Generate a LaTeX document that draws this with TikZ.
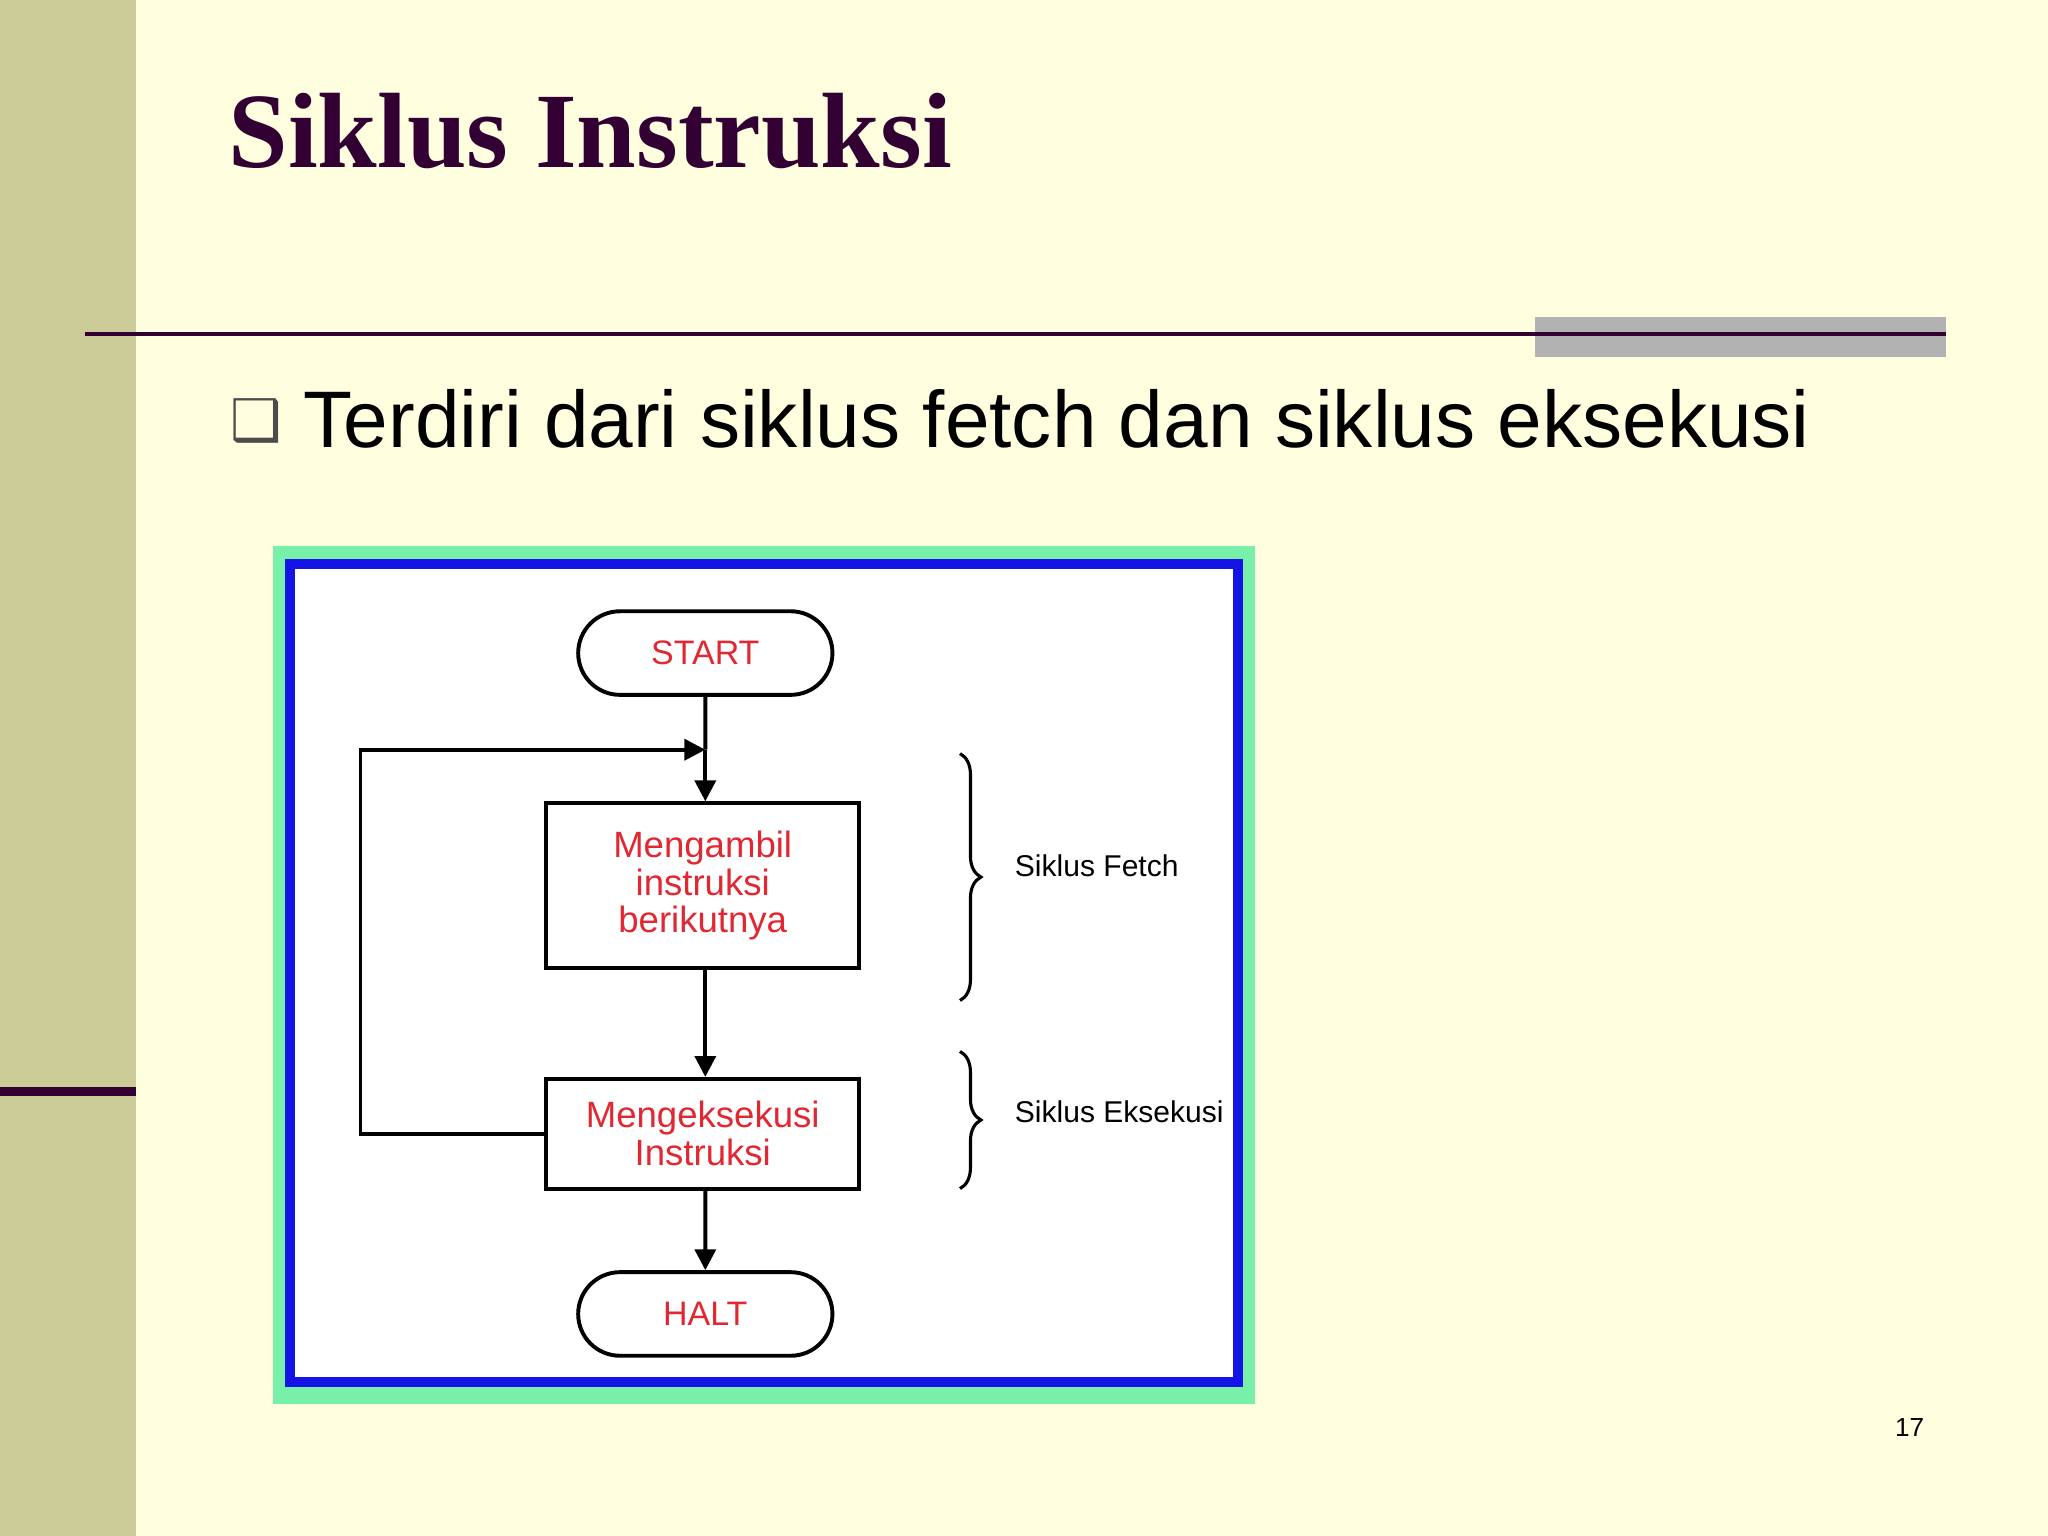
\documentclass[tikz,border=0pt]{standalone}
\usepackage{fontspec}
\setmainfont{Liberation Sans}
\newfontfamily\titlefont{Liberation Serif}
\newfontfamily\symfont{DejaVu Sans}
\usetikzlibrary{shapes.misc,arrows.meta,decorations.pathreplacing}
\definecolor{bg}{RGB}{255,255,224}
\definecolor{band}{RGB}{204,204,153}
\definecolor{dpurple}{RGB}{51,0,51}
\definecolor{fred}{RGB}{225,40,50}
\definecolor{bblue}{RGB}{20,20,230}
\definecolor{bgreen}{RGB}{120,240,170}
\begin{document}
\begin{tikzpicture}[x=0.5pt,y=-0.5pt,
  stadium/.style={draw,line width=1.5pt,rounded rectangle,minimum width=104pt,minimum height=32pt,text=fred,font=\fontsize{13}{15}\selectfont},
  procbox/.style={draw,line width=1.5pt,minimum width=120pt,text=fred,font=\fontsize{14}{14.5}\selectfont,align=center},
  flow/.style={line width=1.5pt,-{Triangle[length=8pt,width=8pt]}},
  lbl/.style={font=\fontsize{11.5}{13}\selectfont,anchor=west}]
\fill[bg] (0,0) rectangle (1568,1176);
\useasboundingbox (0,0) rectangle (1568,1176);
\fill[band] (0,0) rectangle (104,1176);
\fill[dpurple] (0,832) rectangle (104,839);
\node[font=\titlefont\bfseries\fontsize{41}{46}\selectfont,text=dpurple,anchor=base west] (title) at (168,128) {Siklus Instruksi};
\fill[black!30] (1175,243) rectangle (1490,273);
\draw[dpurple,line width=1.5pt] (65,256) -- (1490,256);
\node[anchor=base west,inner sep=0,font=\symfont\fontsize{22}{26}\selectfont,text=black!70] (bul) at (176,337) {❑};
\node[anchor=base west,inner sep=0,font=\fontsize{30.7}{36}\selectfont] (bt) at (232,343) {Terdiri dari siklus fetch dan siklus eksekusi};
\fill[bgreen] (209,418) rectangle (961,1075);
\fill[white] (218,428) rectangle (952,1062);
\draw[bblue,line width=4pt] (222,432) rectangle (948,1058);
\node[stadium] (start) at (540,500) {START};
\node[procbox,minimum height=63pt] (fetch) at (538,678) {Mengambil\\instruksi\\berikutnya};
\node[procbox,minimum height=42pt] (exec) at (538,868) {Mengeksekusi\\Instruksi};
\node[stadium] (halt) at (540,1006) {HALT};
\coordinate (j) at (540,574);
\draw[line width=1.5pt] (start) -- (j);
\draw[flow] (j) -- (fetch.north -| j);
\draw[flow] (fetch.south -| j) -- (exec.north -| j);
\draw[flow] (exec.south -| j) -- (halt);
\draw[flow] (exec.west) -| (276,574) -- (j);
\draw[line width=1.2pt,decorate,decoration={brace,amplitude=8pt}] (735,577) -- (735,766);
\draw[line width=1.2pt,decorate,decoration={brace,amplitude=8pt}] (735,805) -- (735,910);
\node[lbl] (lf) at (770,663) {Siklus Fetch};
\node[lbl] (le) at (770,851) {Siklus Eksekusi};
\node[font=\fontsize{10}{12}\selectfont] (pg) at (1462,1093) {17};
\end{tikzpicture}
\end{document}
